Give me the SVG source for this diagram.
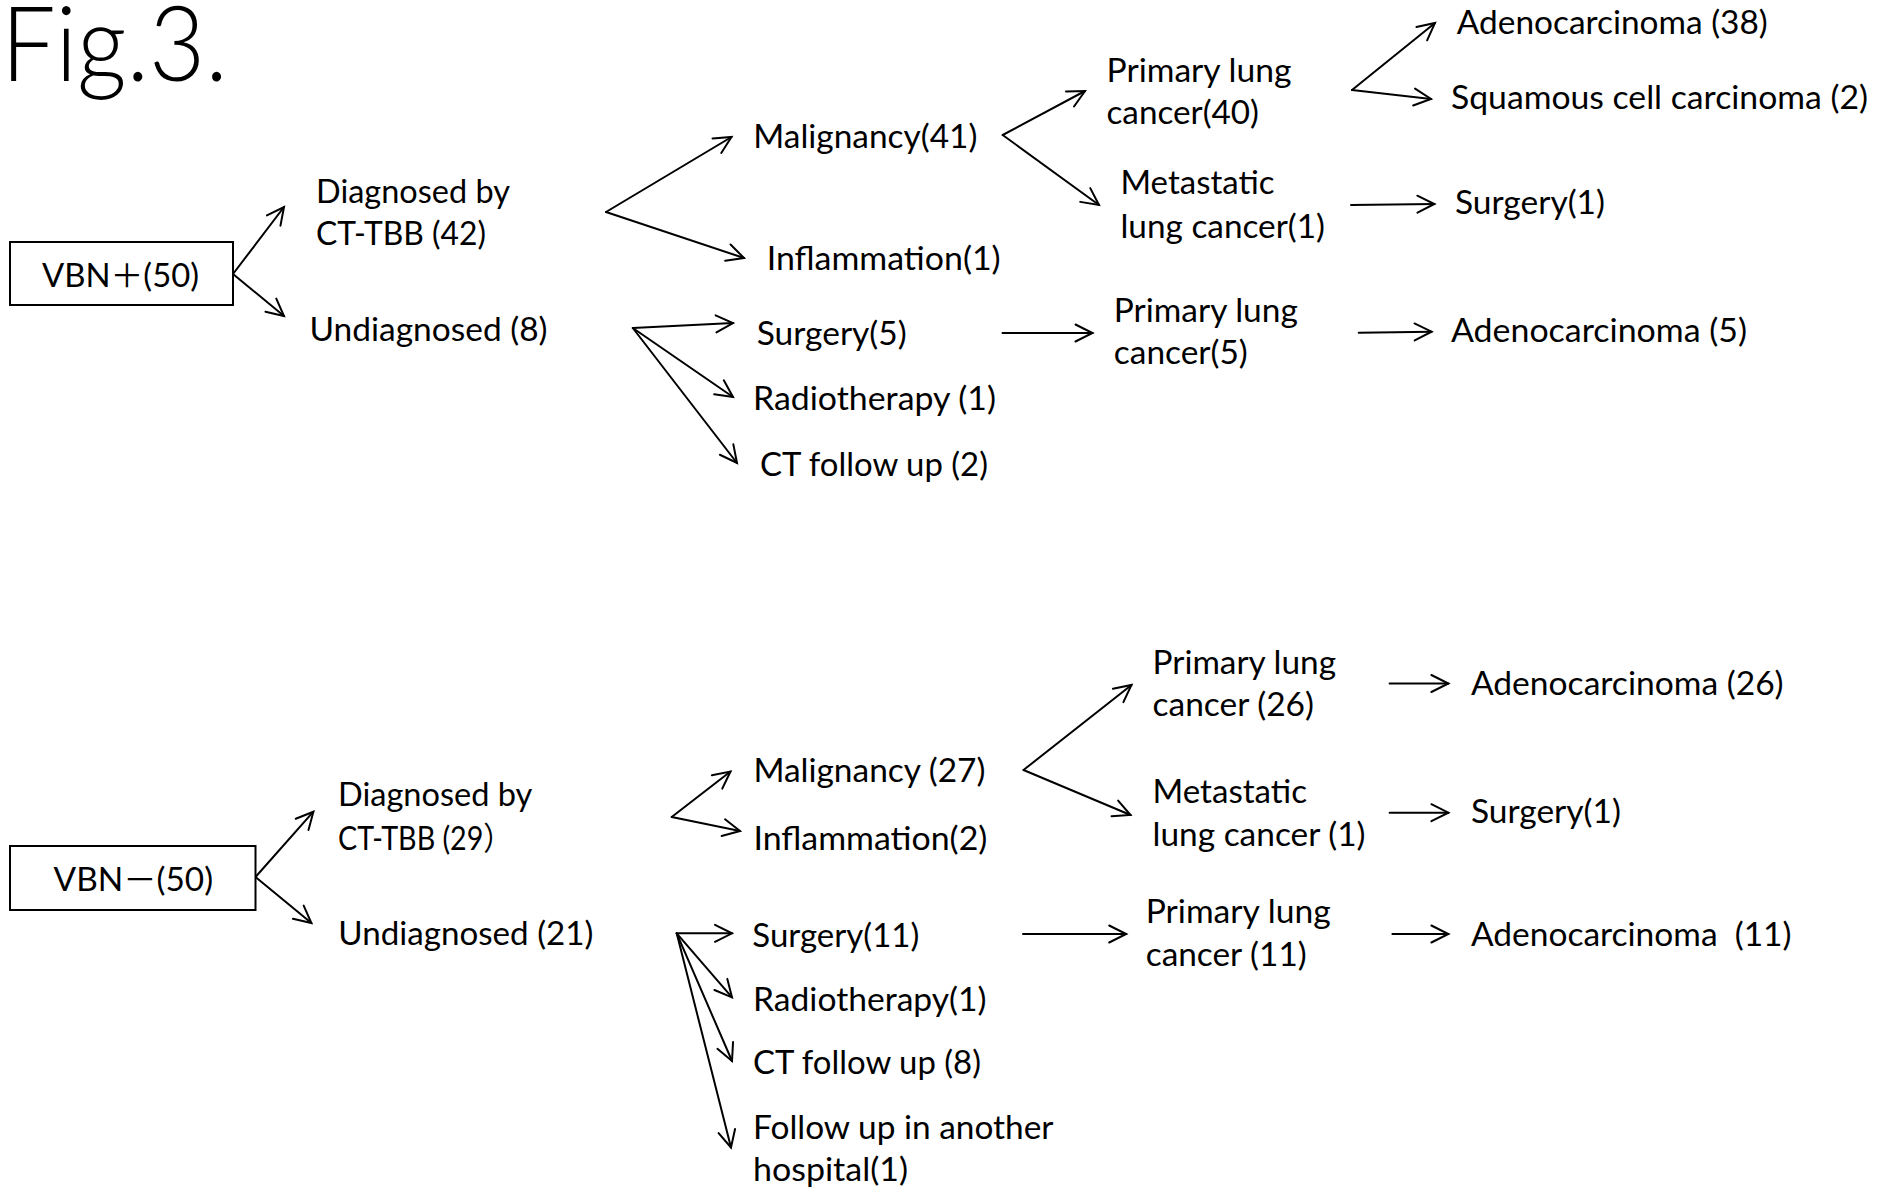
<svg xmlns="http://www.w3.org/2000/svg" width="1879" height="1189" viewBox="0 0 1879 1189">
<style>
.t{font-family:Lato,"Noto Sans","Noto Sans CJK JP",sans-serif;font-size:32px;fill:#000}
.fig{font-family:Lato,"Noto Sans",sans-serif;font-weight:300;font-size:104px;fill:#000}
.box{fill:#fff;stroke:#000;stroke-width:2}
#connectors line{stroke:#000;stroke-width:2;stroke-linecap:round;marker-end:url(#ah)}
</style>
<defs>
<marker id="ah" markerUnits="userSpaceOnUse" orient="auto" overflow="visible" markerWidth="20" markerHeight="20" refX="0" refY="0">
<path d="M-17,-8.5 L0,0 L-17,8.5" fill="none" stroke="#000" stroke-width="2" stroke-linecap="round"/>
</marker>
</defs>
<rect width="1879" height="1189" fill="#fff"/>
<g id="title"><text class="fig" x="1" y="81" textLength="227" lengthAdjust="spacingAndGlyphs">Fig.3.</text></g>

<g id="connectors">
<line x1="233" y1="274" x2="284" y2="207"/>
<line x1="233" y1="274" x2="284" y2="316"/>
<line x1="606" y1="212" x2="731.5" y2="137"/>
<line x1="606" y1="212" x2="744" y2="258"/>
<line x1="1002.7" y1="135" x2="1085" y2="91"/>
<line x1="1002.7" y1="135" x2="1099" y2="205"/>
<line x1="1352" y1="90" x2="1435" y2="23"/>
<line x1="1352" y1="90" x2="1431" y2="99"/>
<line x1="1351" y1="205" x2="1434.4" y2="204"/>
<line x1="1002.5" y1="333" x2="1092.5" y2="333"/>
<line x1="1358.7" y1="332.7" x2="1431.6" y2="331.7"/>
<line x1="632.8" y1="328" x2="733" y2="323"/>
<line x1="632.8" y1="328" x2="733" y2="397"/>
<line x1="632.8" y1="328" x2="737" y2="463"/>
<line x1="255.5" y1="877" x2="313.4" y2="811.7"/>
<line x1="255.5" y1="877" x2="311.4" y2="923"/>
<line x1="671.7" y1="817" x2="730.5" y2="771.5"/>
<line x1="671.7" y1="817" x2="740" y2="831"/>
<line x1="1023.5" y1="770" x2="1131.5" y2="685"/>
<line x1="1023.5" y1="770" x2="1130.5" y2="815"/>
<line x1="1389.6" y1="683.5" x2="1448.4" y2="683.5"/>
<line x1="1389.6" y1="812.7" x2="1448.4" y2="812.7"/>
<line x1="676.7" y1="933.3" x2="732" y2="933.3"/>
<line x1="676.7" y1="933.3" x2="732" y2="997.3"/>
<line x1="676.7" y1="933.3" x2="732" y2="1061"/>
<line x1="676.7" y1="933.3" x2="731" y2="1147.5"/>
<line x1="1023" y1="934" x2="1126.2" y2="934"/>
<line x1="1392.4" y1="934" x2="1448.4" y2="934"/>
</g>

<g id="n_vbn_pos">
<rect class="box" x="10" y="242" width="223" height="63"/>
<text class="t" x="42" y="287" textLength="157" lengthAdjust="spacingAndGlyphs">VBN＋(50)</text>
</g>
<g id="n_diag1">
<text class="t" x="316" y="203" textLength="194" lengthAdjust="spacingAndGlyphs">Diagnosed by</text>
<text class="t" x="316" y="245" textLength="170" lengthAdjust="spacingAndGlyphs">CT-TBB (42)</text>
</g>
<g id="n_undiag1"><text class="t" x="309.5" y="341" textLength="238" lengthAdjust="spacingAndGlyphs">Undiagnosed (8)</text></g>
<g id="n_malig1"><text class="t" x="753.3" y="148.3" textLength="224" lengthAdjust="spacingAndGlyphs">Malignancy(41)</text></g>
<g id="n_inflam1"><text class="t" x="766.7" y="270" textLength="234" lengthAdjust="spacingAndGlyphs">Inflammation(1)</text></g>
<g id="n_plc40">
<text class="t" x="1106.5" y="81.5" textLength="185" lengthAdjust="spacingAndGlyphs">Primary lung</text>
<text class="t" x="1106.5" y="123.5" textLength="152.5" lengthAdjust="spacingAndGlyphs">cancer(40)</text>
</g>
<g id="n_met1">
<text class="t" x="1120.5" y="194" textLength="154" lengthAdjust="spacingAndGlyphs">Metastatic</text>
<text class="t" x="1120.5" y="237.5" textLength="204.5" lengthAdjust="spacingAndGlyphs">lung cancer(1)</text>
</g>
<g id="n_adeno38"><text class="t" x="1456.8" y="34" textLength="311" lengthAdjust="spacingAndGlyphs">Adenocarcinoma (38)</text></g>
<g id="n_squam2"><text class="t" x="1451" y="109" textLength="417" lengthAdjust="spacingAndGlyphs">Squamous cell carcinoma (2)</text></g>
<g id="n_surg1a"><text class="t" x="1455" y="213.5" textLength="150" lengthAdjust="spacingAndGlyphs">Surgery(1)</text></g>
<g id="n_surg5"><text class="t" x="756.7" y="345" textLength="150" lengthAdjust="spacingAndGlyphs">Surgery(5)</text></g>
<g id="n_radio1"><text class="t" x="753" y="409.5" textLength="243" lengthAdjust="spacingAndGlyphs">Radiotherapy (1)</text></g>
<g id="n_ctfu2"><text class="t" x="760" y="475.5" textLength="228" lengthAdjust="spacingAndGlyphs">CT follow up (2)</text></g>
<g id="n_plc5">
<text class="t" x="1113.8" y="322" textLength="184" lengthAdjust="spacingAndGlyphs">Primary lung</text>
<text class="t" x="1113.8" y="364" textLength="134" lengthAdjust="spacingAndGlyphs">cancer(5)</text>
</g>
<g id="n_adeno5"><text class="t" x="1451" y="342" textLength="296" lengthAdjust="spacingAndGlyphs">Adenocarcinoma (5)</text></g>

<g id="n_vbn_neg">
<rect class="box" x="10" y="846" width="245.5" height="64"/>
<text class="t" x="53.6" y="890.5" textLength="159.5" lengthAdjust="spacingAndGlyphs">VBN－(50)</text>
</g>
<g id="n_diag2">
<text class="t" x="338" y="806" textLength="194.4" lengthAdjust="spacingAndGlyphs">Diagnosed by</text>
<text class="t" x="338" y="850" textLength="174" lengthAdjust="spacingAndGlyphs">CT-TBB (29）</text>
</g>
<g id="n_undiag2"><text class="t" x="338.3" y="945" textLength="255" lengthAdjust="spacingAndGlyphs">Undiagnosed (21)</text></g>
<g id="n_malig2"><text class="t" x="753.4" y="782" textLength="232" lengthAdjust="spacingAndGlyphs">Malignancy (27)</text></g>
<g id="n_inflam2"><text class="t" x="753.4" y="850" textLength="234" lengthAdjust="spacingAndGlyphs">Inflammation(2)</text></g>
<g id="n_plc26">
<text class="t" x="1152.5" y="673.5" textLength="183.5" lengthAdjust="spacingAndGlyphs">Primary lung</text>
<text class="t" x="1152.5" y="716" textLength="161.5" lengthAdjust="spacingAndGlyphs">cancer (26)</text>
</g>
<g id="n_met2">
<text class="t" x="1152.5" y="803" textLength="154.5" lengthAdjust="spacingAndGlyphs">Metastatic</text>
<text class="t" x="1152.5" y="845.5" textLength="213" lengthAdjust="spacingAndGlyphs">lung cancer (1)</text>
</g>
<g id="n_adeno26"><text class="t" x="1470.9" y="695" textLength="312.7" lengthAdjust="spacingAndGlyphs">Adenocarcinoma (26)</text></g>
<g id="n_surg1b"><text class="t" x="1470.9" y="823" textLength="150" lengthAdjust="spacingAndGlyphs">Surgery(1)</text></g>
<g id="n_surg11"><text class="t" x="752.3" y="946.5" textLength="167" lengthAdjust="spacingAndGlyphs">Surgery(11)</text></g>
<g id="n_radio1b"><text class="t" x="753" y="1010.5" textLength="233.5" lengthAdjust="spacingAndGlyphs">Radiotherapy(1)</text></g>
<g id="n_ctfu8"><text class="t" x="753" y="1073.5" textLength="228" lengthAdjust="spacingAndGlyphs">CT follow up (8)</text></g>
<g id="n_fuoh">
<text class="t" x="753" y="1138.5" textLength="300.5" lengthAdjust="spacingAndGlyphs">Follow up in another</text>
<text class="t" x="753" y="1180.5" textLength="155" lengthAdjust="spacingAndGlyphs">hospital(1)</text>
</g>
<g id="n_plc11">
<text class="t" x="1145.7" y="923" textLength="185" lengthAdjust="spacingAndGlyphs">Primary lung</text>
<text class="t" x="1145.7" y="966" textLength="161" lengthAdjust="spacingAndGlyphs">cancer (11)</text>
</g>
<g id="n_adeno11"><text class="t" x="1470.9" y="945.5" textLength="320.6" lengthAdjust="spacingAndGlyphs" xml:space="preserve">Adenocarcinoma  (11)</text></g>
</svg>
